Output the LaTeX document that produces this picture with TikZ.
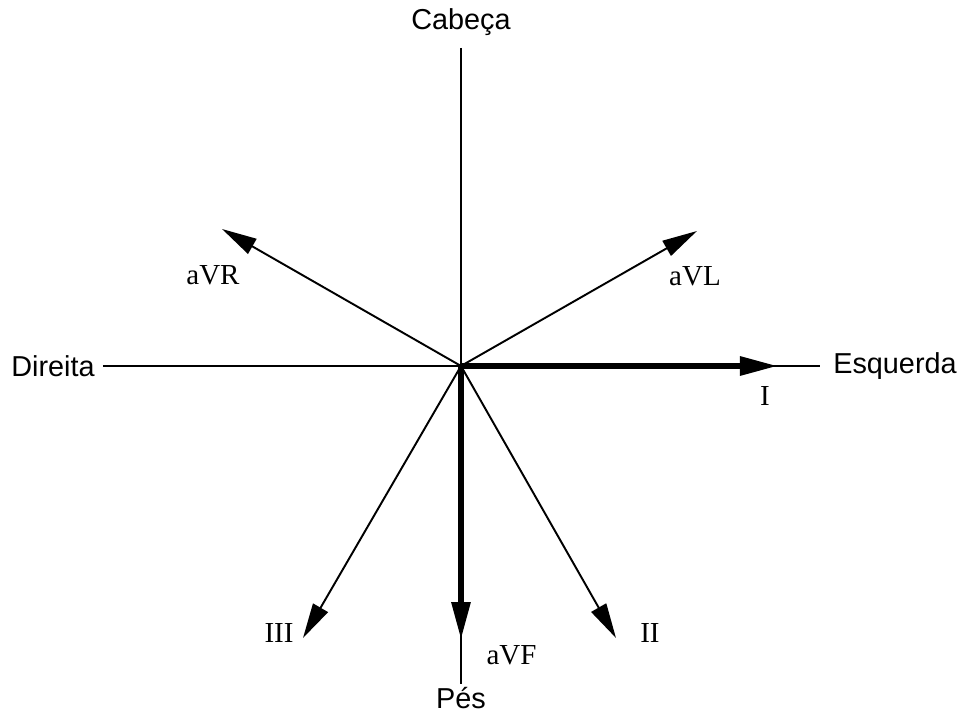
\documentclass[tikz,border=0pt]{standalone}
\usepackage{fontspec}
\setmainfont{Liberation Serif}
\newfontfamily\axisfont{Liberation Sans}
\usepackage{tikz}
\usetikzlibrary{arrows.meta}

\begin{document}
\begin{tikzpicture}[
    axis/.style={line width=1.7pt},
    lead/.style={line width=1.1pt, -{Triangle[length=0.7cm, width=0.34cm]}},
    biglead/.style={line width=3.4pt, -{Triangle[length=0.76cm, width=0.36cm]}},
    axislabel/.style={font=\axisfont\fontsize{16.4}{19}\selectfont, inner sep=0pt},
    leadlabel/.style={font=\fontsize{16.5}{19}\selectfont, inner sep=0pt}
]
  \useasboundingbox (-9.22,-6.96) rectangle (10.02,7.32);
  % Centre and axis ends
  \coordinate (o) at (0,0);
  \coordinate (top) at (0,6.36);
  \coordinate (bottom) at (0,-6.36);
  \coordinate (left) at (-7.16,0);
  \coordinate (right) at (7.18,0);
  % Axis labels
  \node[axislabel] (cabeca) at (0,6.88) {Cabeça};
  \node[axislabel] (direita) at (-8.16,0) {Direita};
  \node[axislabel] (esquerda) at (8.68,0) {Esquerda};
  \node[axislabel] (pes) at (0,-6.64) {Pés};

  % Axes
  \draw[axis] (top) -- (bottom);
  \draw[axis] (left) -- (right);

  % Lead tips
  \coordinate (tipI) at (6.34,0);
  \coordinate (tipaVF) at (0,-5.48);
  \coordinate (tipaVR) at (-4.78,2.74);
  \coordinate (tipaVL) at (4.72,2.70);
  \coordinate (tipIII) at (-3.16,-5.44);
  \coordinate (tipII) at (3.10,-5.44);

  % Leads
  \draw[biglead] (o) -- (tipI);
  \draw[biglead] (o) -- (tipaVF);
  \draw[lead] (o) -- (tipaVR);
  \draw[lead] (o) -- (tipaVL);
  \draw[lead] (o) -- (tipIII);
  \draw[lead] (o) -- (tipII);

  % Lead labels
  \node[leadlabel] (labI) at (6.08,-0.60) {I};
  \node[leadlabel] (labII) at (3.78,-5.34) {II};
  \node[leadlabel] (labIII) at (-3.64,-5.34) {III};
  \node[leadlabel] (labaVR) at (-4.96,1.82) {aVR};
  \node[leadlabel] (labaVL) at (4.68,1.80) {aVL};
  \node[leadlabel] (labaVF) at (1.01,-5.78) {aVF};
\end{tikzpicture}
\end{document}
